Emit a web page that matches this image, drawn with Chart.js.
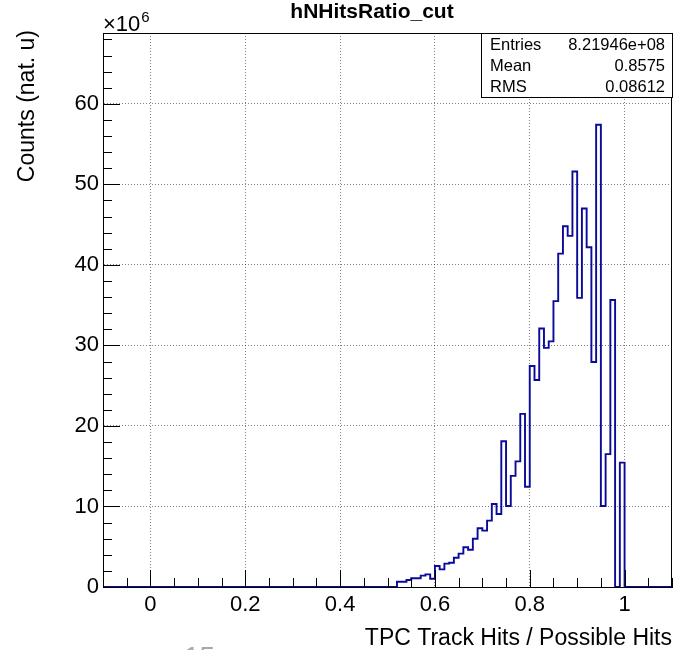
<!DOCTYPE html>
<html><head><meta charset="utf-8">
<style>html,body{margin:0;padding:0;background:#fff;overflow:hidden}
canvas{display:block}</style>
<script src="https://cdn.jsdelivr.net/npm/chart.js@4.4.0/dist/chart.umd.min.js"></script>
</head><body>
<canvas id="c" width="677" height="650"></canvas>
<script>
const histTitle = "hNHitsRatio_cut";
const xTitle = "TPC Track Hits / Possible Hits";
const yTitle = "Counts (nat. u)";
const xMin = -0.1, xMax = 1.1, binWidth = 0.01;
const yMin = 0, yMax = 68.8;          // counts in units of 10^6
const yExponent = "6";
const xTickValues = [0, 0.2, 0.4, 0.6, 0.8, 1.0];
const xTickLabels = ["0", "0.2", "0.4", "0.6", "0.8", "1"];
const yTickValues = [0, 10, 20, 30, 40, 50, 60];
const yTickLabels = ["0", "10", "20", "30", "40", "50", "60"];
const xMinorStep = 0.05, yMinorStep = 2;
// bin contents (x 10^6), bins of width 0.01 from -0.1 to 1.1
const counts = [
  0,0,0,0,0,0,0,0,0,0,
  0,0,0,0,0,0,0,0,0,0,
  0,0,0,0,0,0,0,0,0,0,
  0,0,0,0,0,0,0,0,0,0,
  0,0,0,0,0,0,0,0,0,0,
  0,0,0,0,0,0,0,0,0,0,
  0,0,0.66,0.66,0.87,1.08,1.08,1.41,1.57,1.03,
  2.61,2.19,2.90,3.02,3.64,4.14,4.93,4.62,6.00,7.30,
  7.00,8.24,10.3,9.07,18.1,10.06,13.8,15.6,21.5,12.45,
  27.45,25.7,32.1,29.7,30.5,35.5,41.4,44.8,43.6,51.6,
  35.9,47.0,42.2,27.95,57.4,10.05,16.5,35.65,0,15.45,
  0,0,0,0,0,0,0,0,0,0
];
const statsLabels = ["Entries", "Mean", "RMS"];
const statsValues = ["8.21946e+08", "0.8575", "0.08612"];

const FONT = "'Liberation Sans', Arial, Helvetica, sans-serif";

const points = counts.map((v, i) => ({x: xMin + i * binWidth, y: v}));
points.push({x: xMax, y: counts[counts.length - 1]});

const overlay = {
  id: 'overlay',
  afterDraw(chart) {
    const ctx = chart.ctx, a = chart.chartArea;
    const sx = chart.scales.x, sy = chart.scales.y;
    ctx.save();
    // frame
    ctx.strokeStyle = '#000'; ctx.lineWidth = 1;
    ctx.strokeRect(Math.round(a.left) + 0.5, Math.round(a.top) + 0.5,
                   Math.round(a.right - a.left) - 1, Math.round(a.bottom - a.top));
    // x ticks (inward)
    ctx.beginPath();
    for (let k = 0; ; k++) {
      const v = xMin + k * xMinorStep;
      if (v > xMax + 1e-9) break;
      const px = Math.round(sx.getPixelForValue(v)) + 0.5;
      const major = xTickValues.some(t => Math.abs(t - v) < 1e-6);
      ctx.moveTo(px, a.bottom);
      ctx.lineTo(px, a.bottom - (major ? 17 : 9));
    }
    for (let k = 0; ; k++) {
      const v = yMin + k * yMinorStep;
      if (v > yMax + 1e-9) break;
      const py = Math.round(sy.getPixelForValue(v)) + 0.5;
      const major = yTickValues.some(t => Math.abs(t - v) < 1e-6);
      ctx.moveTo(a.left, py);
      ctx.lineTo(a.left + (major ? 17 : 9), py);
    }
    ctx.stroke();
    // stats box
    const bx = 481.5, by = Math.round(a.top) + 0.5, bw = Math.round(a.right) - 481, bh = 64;
    ctx.fillStyle = '#fff';
    ctx.fillRect(bx, by, bw, bh);
    ctx.strokeRect(bx, by, bw, bh);
    ctx.fillStyle = '#000';
    ctx.font = '16.5px ' + FONT;
    const base = [50, 71, 92];
    statsLabels.forEach((l, i) => {
      ctx.textAlign = 'left'; ctx.fillText(l, 490, base[i]);
      ctx.textAlign = 'right'; ctx.fillText(statsValues[i], 665, base[i]);
    });
    // title
    ctx.font = 'bold 21px ' + FONT;
    ctx.textAlign = 'center'; ctx.textBaseline = 'alphabetic';
    ctx.fillText(histTitle, 372, 18);
    // exponent
    ctx.font = '22px ' + FONT;
    ctx.textAlign = 'left';
    ctx.fillText('\u00d710', a.left, 31);
    const w = ctx.measureText('\u00d710').width;
    ctx.font = '15px ' + FONT;
    ctx.fillText(yExponent, a.left + w + 1, 22);
    // axis titles
    ctx.font = '23px ' + FONT;
    ctx.textAlign = 'right';
    ctx.fillText(xTitle, a.right, 645);
    ctx.save();
    ctx.translate(34, a.top - 3);
    ctx.rotate(-Math.PI / 2);
    ctx.textAlign = 'right';
    ctx.fillText(yTitle, 0, 0);
    ctx.restore();
    // cut-off fragment at bottom
    ctx.fillStyle = '#a8a8a8';
    ctx.font = '28px ' + FONT;
    ctx.textAlign = 'left';
    ctx.fillText('15', 184, 666);
    ctx.restore();
  }
};

new Chart(document.getElementById('c'), {
  type: 'line',
  data: {
    datasets: [{
      data: points,
      stepped: true,
      borderColor: '#0a0a9a',
      borderWidth: 1.9,
      pointRadius: 0,
      fill: false
    }]
  },
  options: {
    responsive: false,
    animation: false,
    events: [],
    layout: {padding: {top: 33, right: 5, left: 0, bottom: 0}},
    plugins: {legend: {display: false}, title: {display: false}, tooltip: {enabled: false}},
    scales: {
      x: {
        type: 'linear', min: xMin, max: xMax,
        afterBuildTicks(s) { s.ticks = xTickValues.map(v => ({value: v})); },
        afterFit(s) { s.height = 63; },
        ticks: {
          autoSkip: false, maxRotation: 0, padding: 5, color: '#000',
          font: {family: FONT, size: 22},
          callback: (v) => xTickLabels[xTickValues.findIndex(t => Math.abs(t - v) < 1e-6)]
        },
        grid: {color: 'rgba(0,0,0,0.5)', drawTicks: false, lineWidth: 1},
        border: {display: true, color: '#000', width: 1, dash: [1, 2]}
      },
      y: {
        type: 'linear', min: yMin, max: yMax,
        afterBuildTicks(s) { s.ticks = yTickValues.map(v => ({value: v})); },
        afterFit(s) { s.width = 103; },
        ticks: {
          autoSkip: false, padding: 4, color: '#000',
          font: {family: FONT, size: 22},
          callback: (v) => yTickLabels[yTickValues.findIndex(t => Math.abs(t - v) < 1e-6)]
        },
        grid: {color: 'rgba(0,0,0,0.5)', drawTicks: false, lineWidth: 1},
        border: {display: true, color: '#000', width: 1, dash: [1, 2]}
      }
    }
  },
  plugins: [overlay]
});
</script>
</body></html>
